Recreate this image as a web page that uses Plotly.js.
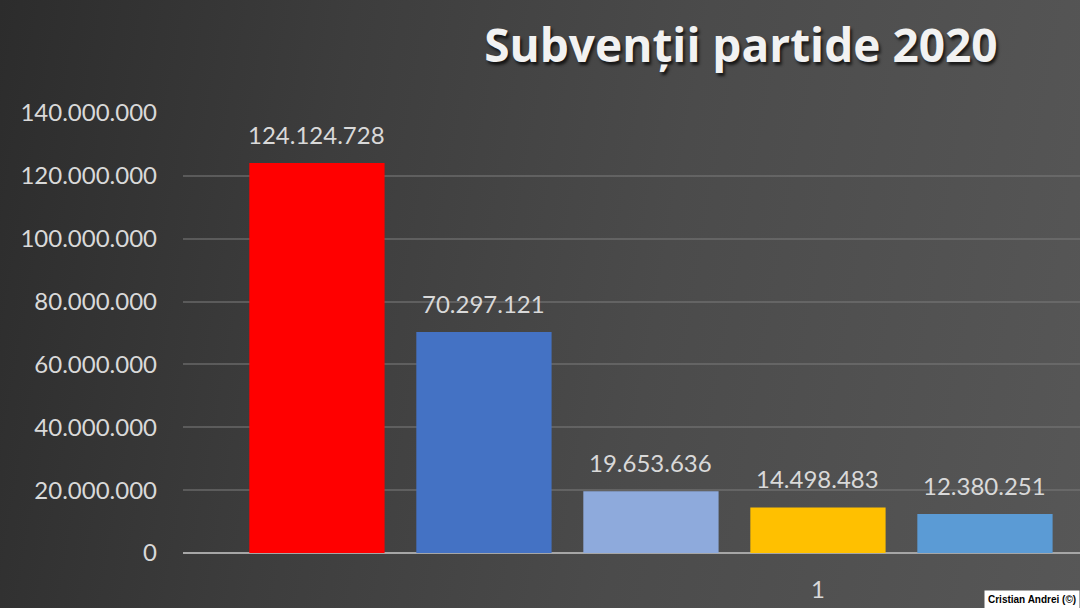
<!DOCTYPE html>
<html>
<head>
<meta charset="utf-8">
<script src="https://cdn.plot.ly/plotly-3.0.1.min.js"></script>
<style>
html,body{margin:0;padding:0;width:1080px;height:608px;overflow:hidden;}
body{background:linear-gradient(100deg,#2c2c2c 0%,#3d3d3d 30%,#4b4b4b 60%,#575757 100%);}
#chart{width:1080px;height:608px;}
</style>
</head>
<body>
<div id="chart"></div>
<script>
const positions = [1, 2, 3, 4, 5];
const values = [124124728, 70297121, 19653636, 14498483, 12380251];
const barColors = ['#ff0000', '#4472c4', '#8eaadc', '#ffc000', '#5b9bd5'];
const yTickVals = [0, 20000000, 40000000, 60000000, 80000000, 100000000, 120000000, 140000000];
const xTickVals = [4];
const xTickText = ['1'];
const titleText = 'Subvenții partide 2020';
const creditText = 'Cristian Andrei (©)';

function fmt(v){ return String(v).replace(/\B(?=(\d{3})+(?!\d))/g, '.'); }

const textFont = {family: 'Lato, "Open Sans", sans-serif', size: 24, color: '#d9d9d9'};

const trace = {
  type: 'bar',
  x: positions,
  y: values,
  width: 0.81,
  marker: {color: barColors, line: {width: 0}},
  hoverinfo: 'skip'
};

const annotations = positions.map((p, i) => ({
  x: p, y: values[i], xref: 'x', yref: 'y',
  text: fmt(values[i]), showarrow: false,
  yanchor: 'bottom', yshift: 12,
  font: textFont
}));
annotations.push({
  xref: 'paper', yref: 'paper', x: 1, y: 0, xanchor: 'right', yanchor: 'bottom',
  yshift: -56, text: '<b>' + creditText + '</b>', showarrow: false,
  bgcolor: '#ffffff', borderpad: 3,
  font: {family: 'Arial, "Liberation Sans", sans-serif', size: 10, color: '#000000'}
});

const layout = {
  width: 1080, height: 608,
  margin: {l: 183, r: 0, t: 113, b: 55},
  paper_bgcolor: 'rgba(0,0,0,0)',
  plot_bgcolor: 'rgba(0,0,0,0)',
  separators: ',.',
  showlegend: false,
  title: {
    text: '<b>' + titleText + '</b>',
    x: 0.686, xanchor: 'center', y: 0.925, yanchor: 'middle',
    font: {family: '"Open Sans", Lato, sans-serif', size: 46, color: '#f2f2f2', shadow: '2px 3px 3px rgba(0,0,0,0.7)'}
  },
  xaxis: {
    range: [0.198, 5.569],
    tickvals: xTickVals, ticktext: xTickText,
    showgrid: false, zeroline: false, showline: false, ticks: '',
    tickfont: textFont, ticklabelstandoff: 20
  },
  yaxis: {
    range: [0, 140000000],
    tickvals: yTickVals,
    tickformat: ',d',
    tickfont: textFont,
    showgrid: true, gridcolor: 'rgba(120,120,120,0.55)', gridwidth: 2,
    zeroline: true, zerolinecolor: '#a6a6a6', zerolinewidth: 2,
    showline: false, ticks: '', ticklabelstandoff: 25
  },
  annotations: annotations
};

Plotly.newPlot('chart', [trace], layout, {displayModeBar: false, staticPlot: true});
</script>
</body>
</html>
